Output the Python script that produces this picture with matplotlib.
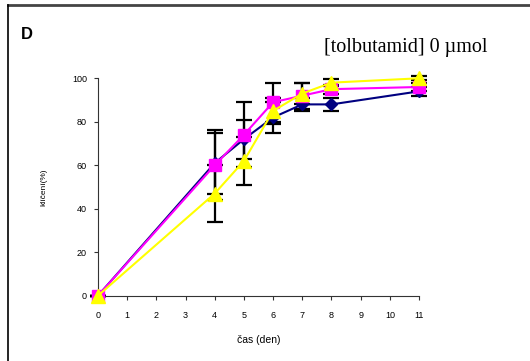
import matplotlib.pyplot as plt
from matplotlib.lines import Line2D

# germination over time, three replicate series
days = [0, 4, 5, 6, 7, 8, 11]

blue_vals = [0, 61, 72, 82, 88, 88, 94]
blue_err = [0, 14, 9, 7, 3, 3, 2]

pink_vals = [0, 60, 74, 89, 92, 95, 96]
pink_err = [0, 16, 15, 9, 6, 2, 2]

yellow_vals = [0, 47, 62, 85, 93, 98, 100]
yellow_err = [0, 13, 11, 6, 5, 1.5, 1]

x_ticks = list(range(0, 12))
y_ticks = [0, 20, 40, 60, 80, 100]

plt.rcParams['font.family'] = ['Liberation Sans', 'DejaVu Sans']

fig = plt.figure(figsize=(5.3, 3.61), dpi=100)
ax = fig.add_axes([0.1849, 0.1809, 0.6057, 0.6022])

series = [
    (blue_vals, blue_err, '#000080', 'D', 6.5),
    (pink_vals, pink_err, '#ff00ff', 's', 8),
    (yellow_vals, yellow_err, '#ffff00', '^', 9.5),
]

# error bars first so the markers sit on top of them
for vals, err, color, marker, ms in series:
    ax.errorbar(days, vals, yerr=err, fmt='none', ecolor='black',
                elinewidth=1.6, capsize=5.5, capthick=1.6, zorder=2,
                clip_on=False)

for vals, err, color, marker, ms in series:
    ax.plot(days, vals, color=color, linewidth=1.5, marker=marker,
            markersize=ms, markerfacecolor=color, markeredgecolor=color,
            zorder=3, clip_on=False)

ax.set_xlim(0, 11)
ax.set_ylim(0, 100)
ax.set_xticks(x_ticks)
ax.set_yticks(y_ticks)
ax.tick_params(axis='both', labelsize=6.5, length=3, width=0.8,
               color='#333333')
ax.tick_params(axis='x', pad=8)
ax.tick_params(axis='y', pad=5)
ax.spines['top'].set_visible(False)
ax.spines['right'].set_visible(False)
ax.spines['left'].set_linewidth(0.8)
ax.spines['bottom'].set_linewidth(0.8)
ax.spines['left'].set_color('#333333')
ax.spines['bottom'].set_color('#333333')

ax.set_xlabel('čas (den)', fontsize=7.5, labelpad=11)
ax.set_ylabel('klíčení(%)', fontsize=6, labelpad=18)

fig.text(0.040, 0.905, 'D', fontsize=12, fontweight='bold', va='center')
fig.text(0.612, 0.868, '[tolbutamid] 0 µmol', fontsize=14.5,
         family=['Liberation Serif', 'DejaVu Serif'], va='center')

# panel frame: top and left edges only
fig.add_artist(Line2D([0.015, 1.0], [0.986, 0.986], color='#444444',
                      linewidth=2, transform=fig.transFigure))
fig.add_artist(Line2D([0.0155, 0.0155], [0.0, 0.986], color='black',
                      linewidth=1.2, transform=fig.transFigure))

fig.savefig('out.png', dpi=100)
